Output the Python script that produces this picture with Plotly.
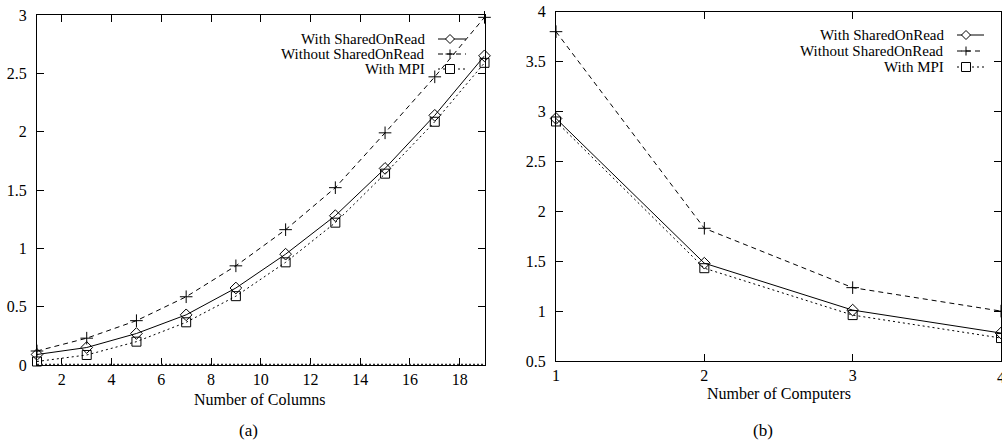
import plotly.graph_objects as go

W, H = 1002, 443

# ---- data: panel (a) ----
cols = [1, 3, 5, 7, 9, 11, 13, 15, 17, 19]
a_shared = [0.09, 0.15, 0.27, 0.43, 0.66, 0.95, 1.28, 1.685, 2.14, 2.65]
a_without = [0.12, 0.23, 0.38, 0.585, 0.85, 1.16, 1.52, 1.99, 2.47, 2.98]
a_mpi = [0.03, 0.086, 0.20, 0.366, 0.59, 0.88, 1.22, 1.64, 2.085, 2.59]

# ---- data: panel (b) ----
comps = [1, 2, 3, 4]
b_shared = [2.93, 1.48, 1.01, 0.78]
b_without = [3.80, 1.83, 1.235, 1.00]
b_mpi = [2.90, 1.43, 0.96, 0.73]

series_names = ["With SharedOnRead", "Without SharedOnRead", "With MPI"]
a_ticks_x = [2, 4, 6, 8, 10, 12, 14, 16, 18]
a_ticks_y = [0, 0.5, 1, 1.5, 2, 2.5, 3]
b_ticks_x = [1, 2, 3, 4]
b_ticks_y = [0.5, 1, 1.5, 2, 2.5, 3, 3.5, 4]

FONT = "Liberation Serif, Times New Roman, serif"
FS = 16
LEG_FS = 15

styles = [
    dict(symbol="diamond-open", size=9, dash="solid"),
    dict(symbol="cross-thin-open", size=9, dash="5px,4px"),
    dict(symbol="square-open", size=9, dash="2px,3px"),
]


def px(x):
    return x / W


def py(y):
    return 1 - y / H


fig = go.Figure()

for data, xa, ya in [((a_shared, a_without, a_mpi), "x", "y"),
                     ((b_shared, b_without, b_mpi), "x2", "y2")]:
    xs = cols if xa == "x" else comps
    for vals, st, name in zip(data, styles, series_names):
        fig.add_trace(go.Scatter(
            x=xs, y=vals, xaxis=xa, yaxis=ya, name=name, mode="lines+markers",
            line=dict(color="black", width=1, dash=st["dash"]),
            marker=dict(symbol=st["symbol"], size=st["size"], color="black",
                        line=dict(color="black", width=1)),
            showlegend=False, cliponaxis=False))

# ---- gnuplot-style legends (text right-aligned, sample on the right) ----
legends = [
    dict(text_right=427, rows=[39, 54, 69], l0=438, l1=466, mk=450),
    dict(text_right=946, rows=[35, 51, 67], l0=957, l1=984, mk=966),
]
LINE = dict(color="black", width=1)
for lg in legends:
    for i, name in enumerate(series_names):
        yv = lg["rows"][i]
        fig.add_annotation(xref="paper", yref="paper", x=px(lg["text_right"]), y=py(yv),
                           text=name, showarrow=False, xanchor="right", yanchor="middle",
                           font=dict(family=FONT, size=LEG_FS, color="black"))
        fig.add_shape(type="line", xref="paper", yref="paper",
                      x0=px(lg["l0"]), x1=px(lg["l1"]), y0=py(yv), y1=py(yv),
                      line=dict(color="black", width=1, dash=styles[i]["dash"]))
        cx, r = lg["mk"], 4.5
        if i == 0:
            path = (f"M{px(cx - r)},{py(yv)} L{px(cx)},{py(yv - r)} "
                    f"L{px(cx + r)},{py(yv)} L{px(cx)},{py(yv + r)} Z")
            fig.add_shape(type="path", xref="paper", yref="paper", path=path,
                          line=LINE, fillcolor="white")
        elif i == 1:
            fig.add_shape(type="line", xref="paper", yref="paper",
                          x0=px(cx - r), x1=px(cx + r), y0=py(yv), y1=py(yv), line=LINE)
            fig.add_shape(type="line", xref="paper", yref="paper",
                          x0=px(cx), x1=px(cx), y0=py(yv - r), y1=py(yv + r), line=LINE)
        else:
            fig.add_shape(type="rect", xref="paper", yref="paper",
                          x0=px(cx - r), x1=px(cx + r), y0=py(yv - r), y1=py(yv + r),
                          line=LINE, fillcolor="white")

# dotted zero axis on panel (a)
fig.add_shape(type="line", xref="x domain", yref="y", x0=0, x1=1, y0=0, y1=0,
              line=dict(color="#333", width=2.5, dash="2px,2px"))

axis_common = dict(showline=True, linecolor="black", linewidth=1, mirror="ticks",
                   ticks="inside", ticklen=7, tickcolor="black", tickwidth=1,
                   showgrid=False, zeroline=False, automargin=False,
                   tickfont=dict(family=FONT, size=FS, color="black"))

fig.update_layout(
    width=W, height=H, margin=dict(l=0, r=0, t=0, b=0, pad=0, autoexpand=False),
    paper_bgcolor="white", plot_bgcolor="rgba(0,0,0,0)", showlegend=False,
    xaxis=dict(domain=[px(37), px(484.5)], range=[1, 19], tickvals=a_ticks_x,
               anchor="y", ticklabelstandoff=0, **axis_common),
    yaxis=dict(domain=[py(365), py(15)], range=[0, 3], tickvals=a_ticks_y,
               ticktext=["0", "0.5", "1", "1.5", "2", "2.5", "3"],
               anchor="x", ticklabelstandoff=6, **axis_common),
    xaxis2=dict(domain=[px(556), px(1001)], range=[1, 4], tickvals=b_ticks_x[:-1],
                anchor="y2", ticklabelstandoff=0, **axis_common),
    yaxis2=dict(domain=[py(361), py(11.7)], range=[0.5, 4], tickvals=b_ticks_y,
                ticktext=["0.5", "1", "1.5", "2", "2.5", "3", "3.5", "4"],
                anchor="x2", ticklabelstandoff=6, **axis_common),
)

# last tick label of panel (b), cut by the page edge as in the original
fig.add_annotation(xref="x2", yref="paper", x=b_ticks_x[-1], y=py(377),
                   text=str(b_ticks_x[-1]), showarrow=False, xanchor="center",
                   yanchor="middle", font=dict(family=FONT, size=FS, color="black"))

# axis titles and captions
for txt, x, y, size in [("Number of Columns", 260, 399, FS),
                        ("Number of Computers", 779, 394, FS),
                        ("(a)", 248, 430, 17), ("(b)", 763, 430, 17)]:
    fig.add_annotation(xref="paper", yref="paper", x=px(x), y=py(y), text=txt,
                       showarrow=False, xanchor="center", yanchor="middle",
                       font=dict(family=FONT, size=size, color="black"))

fig.write_html("out.html")
